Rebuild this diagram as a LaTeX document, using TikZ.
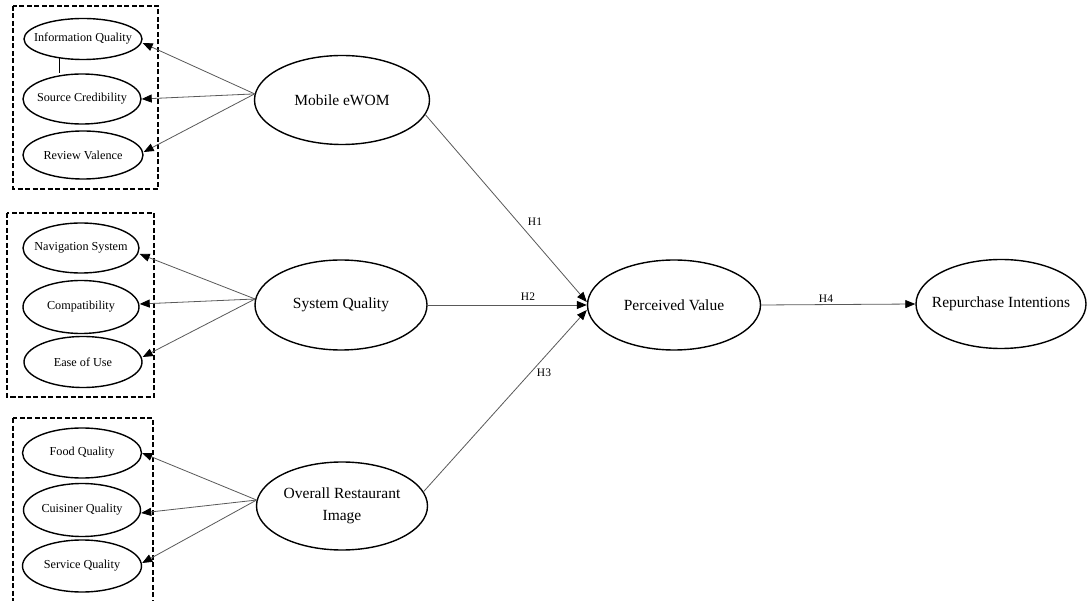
\documentclass[tikz,border=0pt]{standalone}
\usepackage{fontspec}
\setmainfont{Liberation Serif}
\usetikzlibrary{shapes.geometric,arrows.meta}
\begin{document}
\begin{tikzpicture}[x=1pt,y=-1pt,
  small/.style={ellipse,draw,line width=1.4pt,inner xsep=-12pt,inner ysep=0pt,
    minimum width=118pt,minimum height=50pt,font=\fontsize{12.2}{14}\selectfont},
  big/.style={ellipse,draw,line width=1.4pt,inner xsep=-12pt,inner ysep=0pt,
    minimum width=173pt,minimum height=89pt,font=\fontsize{15.5}{22}\selectfont,align=center},
  grp/.style={draw,line width=1.8pt,dash pattern=on 5pt off 2.5pt},
  conn/.style={draw=black!65,line width=0.8pt,-{Triangle[length=10pt,width=8pt,color=black]}},
  hlab/.style={font=\fontsize{11.5}{12}\selectfont,inner sep=0pt}]
\useasboundingbox (0,0) rectangle (1087,601);
\begin{scope}
\clip (0,0) rectangle (1087,601);
\fill[white] (0,0) rectangle (1087,601);
% group frames
\draw[grp] (13,6) rectangle (158,189);
\draw[grp] (7,213) rectangle (154,397);
\draw[grp] (13,418) rectangle (153,610);
% indicator ellipses
\node[small,minimum height=41pt] (IQ) at (83,39) {Information Quality};
\node[small] (SC) at (82,99) {Source Credibility};
\node[small,minimum width=120pt,minimum height=48pt] (RV) at (83,155) {Review Valence};
\node[small,minimum width=116pt] (NS) at (81,248) {Navigation System};
\node[small,minimum width=116pt,minimum height=53pt] (CP) at (81,307) {Compatibility};
\node[small,minimum height=51pt] (EU) at (83,362) {Ease of Use};
\node[small,minimum width=119pt] (FQ) at (82,453) {Food Quality};
\node[small,minimum width=117pt,minimum height=53pt] (CQ) at (82,510) {Cuisiner Quality};
\node[small,minimum width=119pt,minimum height=52pt] (SQ) at (82,566) {Service Quality};
% constructs
\node[big,minimum width=175pt] (ME) at (342,100) {Mobile eWOM};
\node[big,minimum width=172pt,minimum height=90pt] (SYS) at (341,305) {System Quality};
\node[big,minimum width=171pt,minimum height=88pt] (ORI) at (342,506) {Overall Restaurant\\Image};
\node[big,minimum height=90pt] (PV) at (674,305) {Perceived Value};
\node[big,minimum width=170pt] (RI) at (1001,304) {Repurchase Intentions};
% small link between IQ and SC
\draw[line width=0.8pt] (IQ.-141) -- (IQ.-141 |- SC.north);
% reflective arrows
\draw[conn] (ME.176) -- ([yshift=-4pt]IQ.east);
\draw[conn] (ME.176) -- (SC.east);
\draw[conn] (ME.176) -- ([yshift=3pt]RV.east);
\draw[conn] (SYS.176) -- ([yshift=-6pt]NS.east);
\draw[conn] (SYS.176) -- ([yshift=3pt]CP.east);
\draw[conn] (SYS.176) -- ([yshift=5pt]EU.east);
\draw[conn] (ORI.176) -- (FQ.east);
\draw[conn] (ORI.176) -- ([yshift=-3pt]CQ.east);
\draw[conn] (ORI.176) -- ([yshift=3pt]SQ.east);
% hypotheses
\draw[conn] (ME.-10) -- ([yshift=3pt]PV.west);
\draw[conn] (SYS.east) -- (PV.west);
\draw[conn] (ORI.10) -- ([yshift=-5pt]PV.west);
\draw[conn] (PV.east) -- (RI.west);
\node[hlab] (H1) at (535,222) {H1};
\node[hlab] (H2) at (528,297) {H2};
\node[hlab] (H3) at (544,373) {H3};
\node[hlab] (H4) at (826,299) {H4};
\end{scope}
\end{tikzpicture}
\end{document}
